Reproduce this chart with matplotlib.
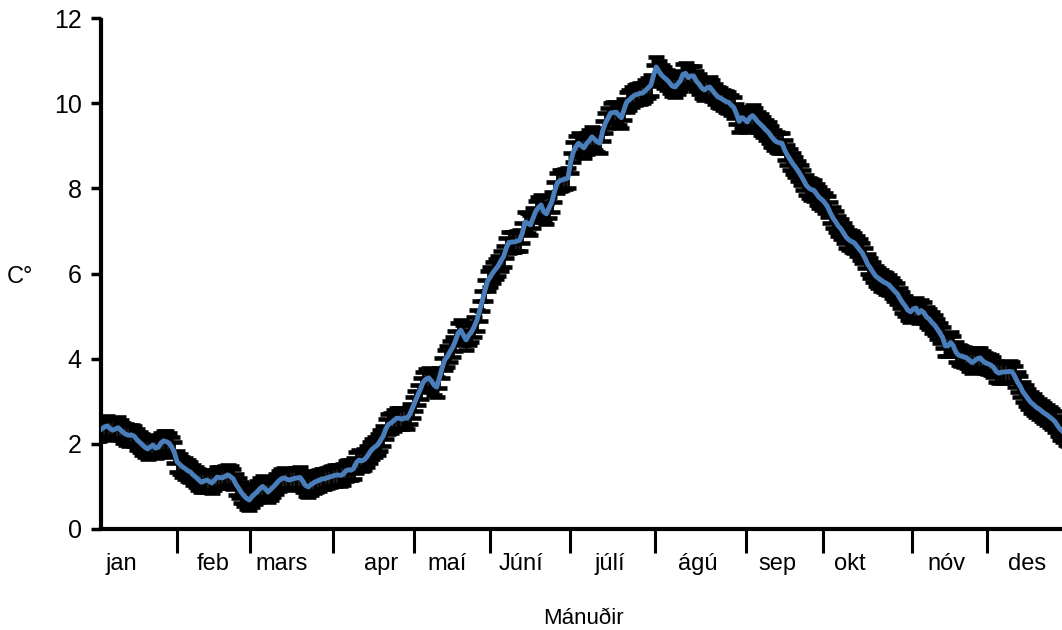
import matplotlib
matplotlib.use("Agg")
import matplotlib.pyplot as plt
import numpy as np

plt.rcParams['font.family'] = ['Liberation Sans', 'DejaVu Sans']

# Daily mean temperature (day of year 1..365)
temps = [
 2.30, 2.31, 2.36, 2.40, 2.42, 2.36, 2.32, 2.35, 2.38, 2.32,
 2.26, 2.22, 2.20, 2.21, 2.18, 2.10, 2.04, 1.98, 1.92, 1.88,
 1.93, 1.97, 1.90, 1.92, 2.02, 2.07, 2.05, 2.02, 1.93, 1.80,
 1.58, 1.52, 1.46, 1.42, 1.37, 1.34, 1.27, 1.22, 1.16, 1.10,
 1.12, 1.15, 1.12, 1.08, 1.15, 1.22, 1.21, 1.20, 1.24, 1.27,
 1.23, 1.18, 1.05, 0.96, 0.86, 0.78, 0.72, 0.68, 0.76, 0.82,
 0.88, 0.95, 1.00, 0.94, 0.87, 0.93, 0.99, 1.06, 1.13, 1.18,
 1.20, 1.17, 1.15, 1.17, 1.19, 1.20, 1.21, 1.12, 1.02, 0.99,
 1.04, 1.08, 1.12, 1.14, 1.17, 1.18, 1.20, 1.22, 1.24, 1.26,
 1.27, 1.26, 1.28, 1.36, 1.39, 1.38, 1.42, 1.56, 1.62, 1.60,
 1.63, 1.70, 1.80, 1.88, 1.93, 1.98, 2.08, 2.18, 2.35, 2.46,
 2.49, 2.55, 2.60, 2.60, 2.58, 2.61, 2.60, 2.70, 2.85, 3.00,
 3.15, 3.30, 3.45, 3.52, 3.55, 3.48, 3.38, 3.33, 3.55, 3.78,
 3.97, 4.05, 4.17, 4.27, 4.42, 4.60, 4.67, 4.55, 4.44, 4.55,
 4.63, 4.75, 4.90, 5.12, 5.35, 5.60, 5.82, 5.92, 6.02, 6.10,
 6.18, 6.30, 6.40, 6.60, 6.73, 6.74, 6.74, 6.76, 6.78, 6.95,
 7.21, 7.18, 7.14, 7.30, 7.46, 7.55, 7.61, 7.45, 7.40, 7.55,
 7.68, 7.92, 8.12, 8.18, 8.20, 8.22, 8.24, 8.60, 8.85, 8.98,
 9.06, 9.00, 8.95, 9.05, 9.12, 9.21, 9.15, 9.09, 9.06, 9.35,
 9.53, 9.65, 9.77, 9.78, 9.79, 9.72, 9.66, 9.85, 10.03, 10.08,
 10.14, 10.19, 10.21, 10.23, 10.24, 10.30, 10.36, 10.42, 10.65, 10.85,
 10.75, 10.66, 10.60, 10.55, 10.48, 10.40, 10.38, 10.45, 10.52, 10.68,
 10.70, 10.60, 10.64, 10.64, 10.52, 10.45, 10.36, 10.31, 10.36, 10.38,
 10.30, 10.22, 10.15, 10.12, 10.08, 10.04, 10.02, 9.96, 9.90, 9.75,
 9.57, 9.66, 9.62, 9.56, 9.66, 9.71, 9.64, 9.56, 9.50, 9.44,
 9.37, 9.31, 9.22, 9.14, 9.09, 9.07, 9.06, 8.90, 8.78, 8.68,
 8.58, 8.50, 8.41, 8.31, 8.20, 8.08, 8.01, 7.97, 7.95, 7.86,
 7.78, 7.73, 7.66, 7.57, 7.43, 7.31, 7.22, 7.12, 7.05, 6.95,
 6.85, 6.79, 6.75, 6.72, 6.64, 6.56, 6.48, 6.36, 6.22, 6.13,
 6.03, 5.94, 5.89, 5.84, 5.80, 5.77, 5.73, 5.66, 5.59, 5.53,
 5.42, 5.32, 5.24, 5.14, 5.10, 5.16, 5.19, 5.07, 5.13, 5.08,
 4.98, 4.93, 4.85, 4.79, 4.70, 4.60, 4.50, 4.30, 4.30, 4.38,
 4.30, 4.15, 4.08, 4.06, 4.04, 4.02, 3.96, 3.91, 3.95, 4.00,
 4.02, 3.95, 3.90, 3.88, 3.85, 3.80, 3.70, 3.66, 3.68, 3.69,
 3.69, 3.70, 3.69, 3.58, 3.45, 3.35, 3.22, 3.14, 3.05, 2.97,
 2.92, 2.86, 2.82, 2.77, 2.72, 2.68, 2.63, 2.58, 2.52, 2.42,
 2.34, 2.28, 2.22, 2.18, 2.12,
]
days = list(range(1, len(temps) + 1))
error = 0.24

month_labels = ['jan', 'feb', 'mars', 'apr', 'maí', 'Júní', 'júlí',
                'ágú', 'sep', 'okt', 'nóv', 'des']
# positions (in days) of labels and of the separating tick marks, as drawn
label_pos = [10.1, 44.5, 70.2, 107.2, 131.9, 159.5, 192.8, 225.6,
             255.1, 282.4, 318.3, 348.5]
tick_pos = [31, 58.3, 89.3, 119.5, 147.9, 177.8, 209.6, 243.6,
            272.3, 305.6, 333.6]

fig = plt.figure(figsize=(10.62, 6.30), dpi=100)
ax = fig.add_axes([101/1062, 1 - 529/630, 1 - 101/1062, (529-18)/630])

ax.errorbar(days, temps, yerr=error, fmt='none', ecolor='black',
            elinewidth=2.0, capsize=6.0, capthick=3.3, zorder=2)
ax.plot(days, temps, color='#4A7EBB', linewidth=3.5, zorder=3)

ax.set_xlim(2.6, 361.6)
ax.set_ylim(0, 12)
ax.set_yticks(range(0, 13, 2))
ax.tick_params(axis='y', direction='out', length=7, width=2.5,
               labelsize=18, pad=7)

ax.set_xticks(tick_pos)
ax.set_xticklabels([''] * len(tick_pos))
ax.tick_params(axis='x', which='major', direction='out', length=17,
               width=2.2)
ax.set_xticks(label_pos, minor=True)
ax.set_xticklabels(month_labels, minor=True)
ax.tick_params(axis='x', which='minor', length=0, labelsize=17, pad=17)

for s in ['top', 'right']:
    ax.spines[s].set_visible(False)
for s in ['left', 'bottom']:
    ax.spines[s].set_linewidth(3.0)
ax.spines['left'].set_capstyle('butt')

fig.text(20/1062, 1 - 277/630, 'C°', fontsize=17, ha='center', va='center')
fig.text(583/1062, 1 - 619/630, 'Mánuðir', fontsize=16, ha='center',
         va='center')

fig.savefig('out.png', dpi=100)
